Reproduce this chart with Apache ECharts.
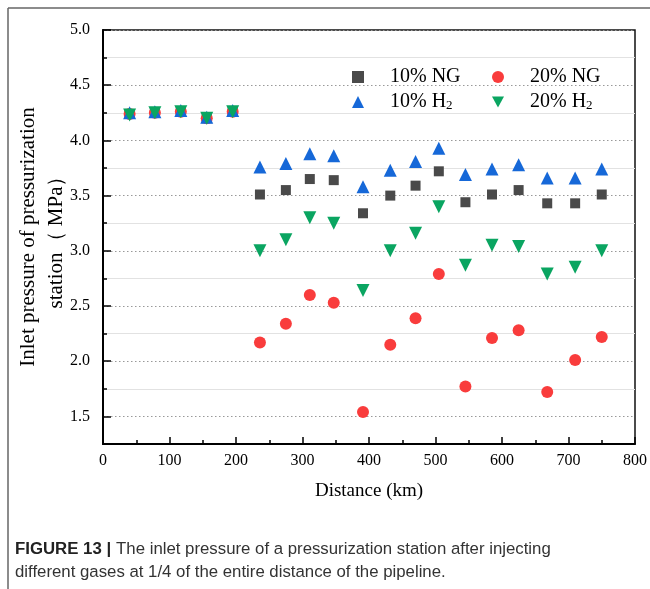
<!DOCTYPE html>
<html>
<head>
<meta charset="utf-8">
<style>html,body{margin:0;padding:0;background:#fff;}#c{width:650px;height:589px;}</style>
<script src="https://cdn.jsdelivr.net/npm/echarts@6/dist/echarts.min.js"></script>
</head>
<body>
<div id="c"></div>
<script>
// ---- data ----
const distanceKm = [40, 78, 117, 156, 195, 236, 275, 311, 347, 391, 432, 470, 505, 545, 585, 625, 668, 710, 750];
const ng10 = [4.24, 4.25, 4.26, 4.20, 4.26, 3.51, 3.55, 3.65, 3.64, 3.34, 3.50, 3.59, 3.72, 3.44, 3.51, 3.55, 3.43, 3.43, 3.51];
const ng20 = [4.24, 4.25, 4.26, 4.20, 4.26, 2.17, 2.34, 2.60, 2.53, 1.54, 2.15, 2.39, 2.79, 1.77, 2.21, 2.28, 1.72, 2.01, 2.22];
const h2_10 = [4.25, 4.26, 4.27, 4.21, 4.27, 3.76, 3.79, 3.88, 3.86, 3.58, 3.73, 3.81, 3.93, 3.69, 3.74, 3.78, 3.66, 3.66, 3.74];
const h2_20 = [4.23, 4.25, 4.26, 4.20, 4.26, 3.00, 3.10, 3.30, 3.25, 2.64, 3.00, 3.16, 3.40, 2.87, 3.05, 3.04, 2.79, 2.85, 3.00];
const seriesNames = ['10% NG', '20% NG', '10% H2', '20% H2'];
const xTitle = 'Distance (km)';
const yTitle = 'Inlet pressure of pressurization\nstation\uFF08 MPa\uFF09';
const captionLine1 = 'The inlet pressure of a pressurization station after injecting';
const captionLine2 = 'different gases at 1/4 of the entire distance of the pipeline.';

function pairs(ys) { return distanceKm.map((x, i) => [x, ys[i]]); }

const serif = '"Liberation Serif", "Times New Roman", serif';
const sans = '"Liberation Sans Narrow", "Liberation Sans", sans-serif';
const chart = echarts.init(document.getElementById('c'));

const styleFor = [
  { symbol: 'rect', size: 10, color: '#4a4a4a', rotate: 0, icon: 'rect' },
  { symbol: 'circle', size: 12, color: '#f93c3c', rotate: 0, icon: 'circle' },
  { symbol: 'triangle', size: 13, color: '#1668d8', rotate: 0, icon: 'triangle' },
  { symbol: 'triangle', size: 13, color: '#0aa561', rotate: 180, icon: 'path://M0,0 L12,0 L6,11 Z' }
];
const values = [ng10, ng20, h2_10, h2_20];

chart.setOption({
  animation: false,
  backgroundColor: '#fff',
  title: {
    left: 10, top: 533,
    text: '{b|FIGURE 13 |} {n|' + captionLine1 + '}\n{n|' + captionLine2 + '}',
    textStyle: {
      rich: {
        b: { fontFamily: sans, fontWeight: 'bold', fontSize: 16.8, color: '#222', lineHeight: 23 },
        n: { fontFamily: sans, fontWeight: 'normal', fontSize: 16.8, color: '#333', lineHeight: 23 }
      }
    }
  },
  graphic: [
    { type: 'line', shape: { x1: 8, y1: 8, x2: 650, y2: 8 }, style: { stroke: '#666', lineWidth: 1.5 } },
    { type: 'line', shape: { x1: 8, y1: 8, x2: 8, y2: 589 }, style: { stroke: '#666', lineWidth: 1.5 } }
  ],
  legend: {
    left: 347, top: 62, width: 290,
    orient: 'horizontal',
    itemWidth: 12, itemHeight: 12, itemGap: 5,
    data: seriesNames.map((n, k) => ({ name: n, icon: styleFor[k].icon })),
    formatter: function (name) {
      if (name.indexOf('H2') >= 0) return '{p|}{n|' + name.replace('H2', 'H') + '}{s|2}';
      return '{p|}{n|' + name + '}';
    },
    textStyle: {
      width: 118, lineHeight: 20,
      rich: {
        p: { width: 21, lineHeight: 20 },
        n: { fontFamily: serif, fontSize: 20, color: '#000', lineHeight: 20 },
        s: { fontFamily: serif, fontSize: 13, color: '#000', verticalAlign: 'bottom', lineHeight: 12 }
      }
    }
  },
  grid: {
    left: 103, right: 15, top: 30, bottom: 145, containLabel: false, outerBoundsMode: 'none',
    show: true, borderColor: '#111', borderWidth: 1.5, backgroundColor: 'transparent'
  },
  xAxis: {
    type: 'value', min: 0, max: 800, interval: 100,
    name: xTitle, nameLocation: 'middle', nameGap: 38, nameMoveOverlap: false,
    nameTextStyle: { fontFamily: serif, fontSize: 19, color: '#000' },
    axisLine: { lineStyle: { color: '#000', width: 2 } },
    axisTick: { inside: true, length: 7, lineStyle: { color: '#000', width: 1.5 } },
    minorTick: { show: true, splitNumber: 2, length: 4, lineStyle: { color: '#000', width: 1.5 } },
    axisLabel: { fontFamily: serif, fontSize: 16, color: '#000', margin: 9 },
    splitLine: { show: false }
  },
  yAxis: [
    {
      type: 'value', min: 1.25, max: 5, splitNumber: 7,
      name: yTitle, nameLocation: 'middle', nameGap: 33, nameMoveOverlap: false,
      nameTextStyle: { fontFamily: serif, fontSize: 21, color: '#000', lineHeight: 28 },
      axisLine: { lineStyle: { color: '#000', width: 2 } },
      axisTick: { inside: true, length: 8, lineStyle: { color: '#000', width: 1.5 } },
      axisLabel: {
        fontFamily: serif, fontSize: 16, color: '#000', margin: 13,
        formatter: function (v) { return Math.abs(v * 2 - Math.round(v * 2)) < 1e-6 ? v.toFixed(1) : ''; }
      },
      splitLine: { show: true, lineStyle: { color: '#999', type: [1.5, 2.5], width: 1 } }
    },
    {
      type: 'value', min: 1.25, max: 5, interval: 0.25, position: 'left',
      axisLine: { show: false },
      axisTick: { inside: true, length: 4, lineStyle: { color: '#000', width: 1.5 } },
      axisLabel: { show: false },
      splitLine: { show: true, lineStyle: { color: ['#e2e2e2', 'rgba(0,0,0,0)'], width: 1 } }
    }
  ],
  series: seriesNames.map((name, k) => ({
    name: name,
    type: 'scatter',
    yAxisIndex: 0,
    symbol: styleFor[k].symbol,
    symbolSize: styleFor[k].size,
    symbolRotate: styleFor[k].rotate,
    itemStyle: { color: styleFor[k].color, opacity: 1 },
    data: pairs(values[k]),
    z: 2 + k
  }))
});
</script>
</body>
</html>
